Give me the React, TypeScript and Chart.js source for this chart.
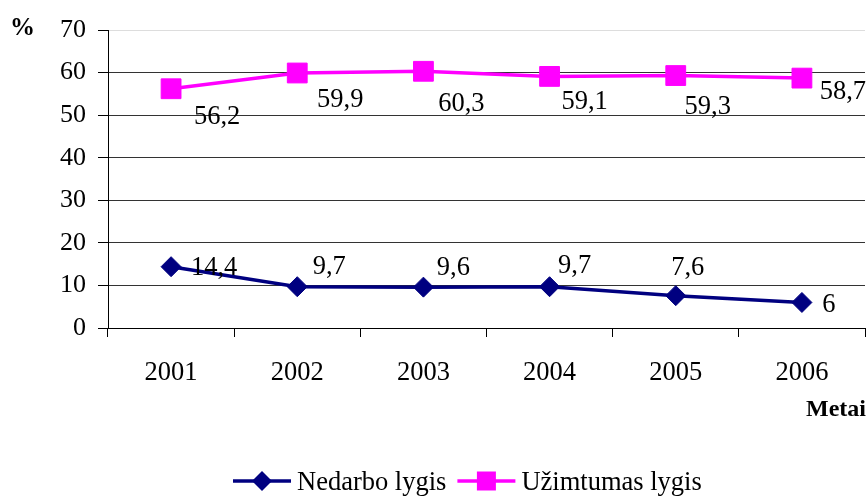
import React, { useEffect, useRef } from "react";
import { Chart, registerables } from "chart.js";

Chart.register(...registerables);

const years = ["2001", "2002", "2003", "2004", "2005", "2006"];
const nedarbo = [14.4, 9.7, 9.6, 9.7, 7.6, 6];
const uzimtumas = [56.2, 59.9, 60.3, 59.1, 59.3, 58.7];
const seriesNames = ["Nedarbo lygis", "Užimtumas lygis"];
const yMin = 0;
const yMax = 70;
const yStep = 10;

const NAVY = "#000080";
const MAGENTA = "#FF00FF";
const SERIF = "'Liberation Serif', 'Times New Roman', serif";

// label offsets (style) relative to each point
const labelOffsets = [
  [[43, 0], [32, -21], [30, -20], [25, -22], [12, -29], [27, 2]],
  [[46, 27], [43, 26], [38, 32], [35, 25], [32, 30], [41, 13]],
];

const fmt = (v: number) => String(v).replace(".", ",");

const labelsPlugin = {
  id: "valueLabels",
  afterDatasetsDraw(chart: any) {
    const ctx = chart.ctx;
    ctx.save();
    ctx.font = `26.5px ${SERIF}`;
    ctx.fillStyle = "#000";
    ctx.textAlign = "center";
    ctx.textBaseline = "middle";
    chart.data.datasets.forEach((ds: any, di: number) => {
      const meta = chart.getDatasetMeta(di);
      meta.data.forEach((pt: any, i: number) => {
        const off = labelOffsets[di][i];
        ctx.fillText(fmt(ds.data[i]), pt.x + off[0], pt.y + off[1] + 1);
      });
    });
    ctx.restore();
  },
};

const extrasPlugin = {
  id: "extras",
  afterDraw(chart: any) {
    const ctx = chart.ctx;
    ctx.save();
    // axis titles
    ctx.fillStyle = "#000";
    ctx.font = `bold 25px ${SERIF}`;
    ctx.textBaseline = "middle";
    ctx.textAlign = "left";
    ctx.fillText("%", 10, 29);
    ctx.font = `bold 24px ${SERIF}`;
    ctx.textAlign = "right";
    ctx.fillText("Metai", 866, 410);

    // legend
    const y = 481;
    let x = 233;
    ctx.font = `26.5px ${SERIF}`;
    ctx.textAlign = "left";
    chart.data.datasets.forEach((ds: any) => {
      const lineLen = 58;
      ctx.strokeStyle = ds.borderColor;
      ctx.lineWidth = 3.5;
      ctx.beginPath();
      ctx.moveTo(x, y);
      ctx.lineTo(x + lineLen, y);
      ctx.stroke();
      const cx = x + lineLen / 2;
      ctx.fillStyle = ds.borderColor;
      ctx.beginPath();
      if (ds.pointStyle === "rectRot") {
        const r = 10;
        ctx.moveTo(cx - r, y);
        ctx.lineTo(cx, y - r);
        ctx.lineTo(cx + r, y);
        ctx.lineTo(cx, y + r);
        ctx.closePath();
      } else {
        const s = 9.5;
        ctx.rect(cx - s, y - s, 2 * s, 2 * s);
      }
      ctx.fill();
      ctx.fillStyle = "#000";
      const tx = x + lineLen + 6;
      ctx.fillText(ds.label, tx, y + 2);
      x = tx + ctx.measureText(ds.label).width + 11;
    });
    ctx.restore();
  },
};

export default function App() {
  const ref = useRef<HTMLCanvasElement | null>(null);

  useEffect(() => {
    if (!ref.current) return;
    const chart = new Chart(ref.current, {
      type: "line",
      data: {
        labels: years,
        datasets: [
          {
            label: seriesNames[0],
            data: nedarbo,
            borderColor: NAVY,
            backgroundColor: NAVY,
            borderWidth: 3.5,
            pointStyle: "rectRot",
            pointRadius: 10,
            pointBorderWidth: 1,
            pointBackgroundColor: NAVY,
            pointBorderColor: NAVY,
            tension: 0,
          },
          {
            label: seriesNames[1],
            data: uzimtumas,
            borderColor: MAGENTA,
            backgroundColor: MAGENTA,
            borderWidth: 3.5,
            pointStyle: "rect",
            pointRadius: 14,
            pointBorderWidth: 1,
            pointBackgroundColor: MAGENTA,
            pointBorderColor: MAGENTA,
            tension: 0,
          },
        ],
      },
      options: {
        responsive: false,
        devicePixelRatio: 1,
        animation: false,
        layout: { autoPadding: false, padding: { top: 30, right: 3, bottom: 0, left: 0 } },
        plugins: {
          legend: { display: false },
          tooltip: { enabled: false },
        },
        scales: {
          x: {
            type: "category",
            offset: true,
            grid: {
              display: true,
              drawOnChartArea: false,
              drawTicks: true,
              tickLength: 9,
              offset: true,
              color: "#000",
            },
            border: { display: true, color: "#000", width: 1 },
            ticks: {
              color: "#000",
              font: { family: SERIF, size: 26.5 },
              padding: 20,
              maxRotation: 0,
              autoSkip: false,
            },
            afterFit(scale: any) {
              scale.height = 168;
            },
          },
          y: {
            min: yMin,
            max: yMax,
            grid: {
              color: (c: any) => (c.tick && c.tick.value === yMax ? "#dddddd" : "#333333"),
              tickColor: "#000",
              tickLength: 10,
              lineWidth: 1,
            },
            border: { display: true, color: "#000", width: 1 },
            ticks: {
              stepSize: yStep,
              color: "#000",
              font: { family: SERIF, size: 26 },
              padding: 12,
            },
            afterFit(scale: any) {
              scale.width = 108;
            },
          },
        },
      },
      plugins: [labelsPlugin, extrasPlugin],
    });
    return () => chart.destroy();
  }, []);

  return (
    <div style={{ position: "absolute", left: 0, top: 0, width: 868, height: 496, background: "#fff" }}>
      <canvas ref={ref} width={868} height={496} />
    </div>
  );
}
